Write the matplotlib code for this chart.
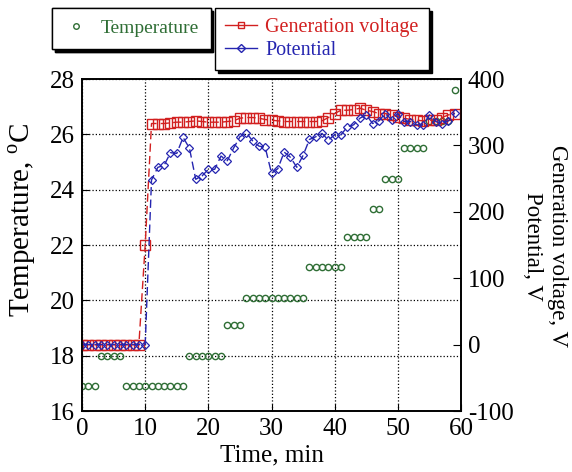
import matplotlib.pyplot as plt
from matplotlib.lines import Line2D

plt.rcParams['font.family'] = ['Liberation Serif', 'DejaVu Serif']
plt.rcParams['axes.unicode_minus'] = False
plt.rcParams['mathtext.fontset'] = 'custom'
plt.rcParams['mathtext.rm'] = 'Liberation Serif'

# Temps (min)
minutes = list(range(60))

# Temperature (°C)
temperature = [16.9, 16.9, 16.9, 18.0, 18.0, 18.0, 18.0, 16.9, 16.9, 16.9,
               16.9, 16.9, 16.9, 16.9, 16.9, 16.9, 16.9, 18.0, 18.0, 18.0,
               18.0, 18.0, 18.0, 19.1, 19.1, 19.1, 20.1, 20.1, 20.1, 20.1,
               20.1, 20.1, 20.1, 20.1, 20.1, 20.1, 21.2, 21.2, 21.2, 21.2,
               21.2, 21.2, 22.3, 22.3, 22.3, 22.3, 23.3, 23.3, 24.4, 24.4,
               24.4, 25.5, 25.5, 25.5, 25.5, 26.5, 26.5, 26.5, 26.5, 27.6]

# Generation voltage (V)
gen_voltage = [0, 0, 0, 0, 0, 0, 0, 0, 0, 0,
               150, 333, 333, 333, 334, 335, 335, 336, 337, 336,
               335, 335, 335, 336, 337, 341, 342, 342, 341, 339,
               338, 337, 336, 336, 336, 336, 336, 336, 337, 342,
               348, 353, 353, 354, 356, 353, 351, 348, 348, 346,
               343, 341, 339, 338, 337, 338, 338, 342, 346, 348]

# Potential (V)
potential = [0, 0, 0, 0, 0, 0, 0, 0, 0, 0,
             0, 248, 267, 270, 289, 288, 312, 296, 249, 254,
             264, 264, 284, 277, 296, 313, 319, 307, 299, 297,
             258, 265, 290, 282, 267, 285, 309, 313, 318, 308,
             316, 316, 328, 331, 341, 346, 333, 337, 348, 339,
             348, 336, 336, 331, 331, 346, 336, 333, 337, 349]

green = '#2f6e35'
red = '#d22020'
blue = '#2525b0'

fig = plt.figure(figsize=(5.72, 4.72), dpi=100)
ax = fig.add_axes([0.1434, 0.1292, 0.6626, 0.7034])
ax2 = ax.twinx()

# Temperature sur l'axe de gauche
ax.plot(minutes, temperature, 'o', color=green, mfc='none', ms=4.5, mew=1.0, zorder=3)
ax.set_xlim(0, 60)
ax.set_ylim(16, 28)
ax.set_xticks(range(0, 61, 10))
ax.set_yticks(range(16, 29, 2))
ax.grid(True, color='k', linestyle=':', linewidth=0.9)
ax.tick_params(direction='in', labelsize=18, length=5, pad=5)
ax.set_xlabel('Time, min', fontsize=18, labelpad=3)

# Tensions sur l'axe de droite
ax2.plot(minutes, gen_voltage, color=red, linestyle=(0, (6, 3)), lw=1.0,
         marker='s', mfc='none', ms=6.5, mew=1.0)
ax2.plot(minutes, potential, color=blue, linestyle=(0, (6, 3)), lw=1.0,
         marker='D', mfc='none', ms=4.5, mew=0.9)
ax2.set_ylim(-100, 400)
ax2.set_yticks(range(-100, 401, 100))
ax2.tick_params(direction='in', labelsize=18, length=6, pad=5)

for a in (ax, ax2):
    for s in a.spines.values():
        s.set_linewidth(1.2)

# Titres des axes verticaux
fig.text(22 / 572, 1 - 220 / 472, 'Temperature, $^{\\rm o}$C', fontsize=21,
         rotation=90, ha='center', va='center')
fig.text(545 / 572, 1 - 246 / 472, 'Generation voltage, V\nPotential, V',
         fontsize=16.5, rotation=270, ha='center', va='center',
         multialignment='center', linespacing=1.2)

# Légendes avec ombre
h1 = [Line2D([], [], linestyle='none', marker='o', color=green, mfc='none', ms=4, mew=1)]
leg1 = fig.legend(h1, ['Temperature'], loc='upper left',
                  bbox_to_anchor=(52 / 572, 1 - 8 / 472), fontsize=14,
                  labelcolor=[green], fancybox=False, edgecolor='k',
                  framealpha=1, shadow={'color': 'k', 'alpha': 1},
                  handlelength=1.3, handletextpad=0.6, borderpad=0.6,
                  borderaxespad=0)
h2 = [Line2D([], [], color=red, linestyle='-', marker='s', mfc='none', ms=5, lw=1),
      Line2D([], [], color=blue, linestyle='-', marker='D', mfc='none', ms=4, lw=1)]
leg2 = fig.legend(h2, ['Generation voltage', 'Potential'], loc='upper left',
                  bbox_to_anchor=(215 / 572, 1 - 8 / 472), fontsize=14.5,
                  labelcolor=[red, blue], fancybox=False, edgecolor='k',
                  framealpha=1, shadow={'color': 'k', 'alpha': 1},
                  handlelength=1.6, handletextpad=0.4, borderpad=0.5,
                  borderaxespad=0, labelspacing=0.2)
fig.add_artist(leg1)

fig.savefig('out.png', dpi=100)
